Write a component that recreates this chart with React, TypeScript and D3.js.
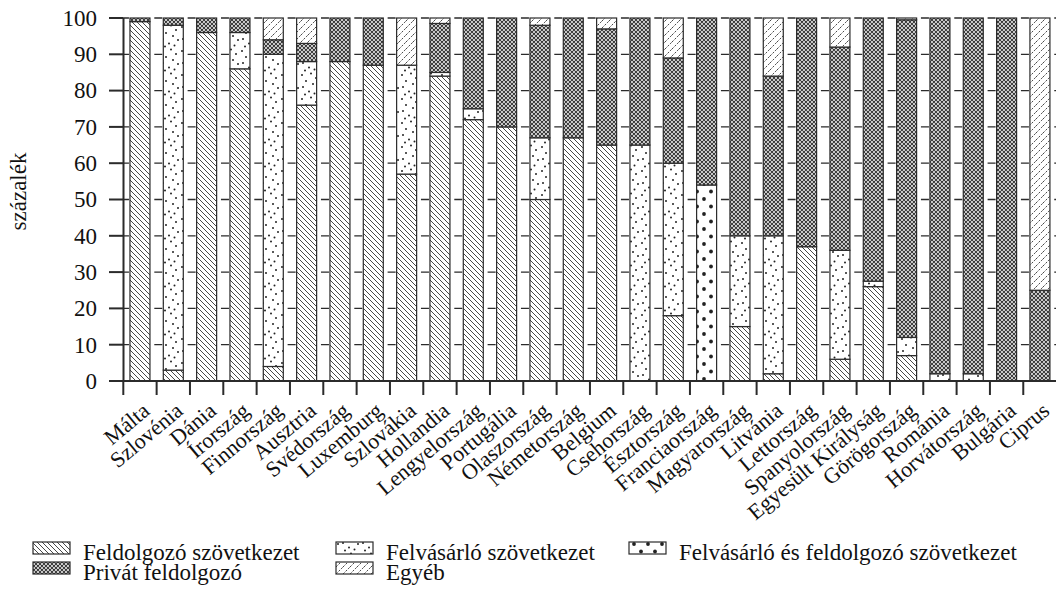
import React from "react";
import * as d3 from "d3";

const countries = ["Málta","Szlovénia","Dánia","Írország","Finnország","Ausztria","Svédország","Luxemburg","Szlovákia","Hollandia","Lengyelország","Portugália","Olaszország","Németország","Belgium","Csehország","Észtország","Franciaország","Magyarország","Litvánia","Lettország","Spanyolország","Egyesült Királyság","Görögország","Románia","Horvátország","Bulgária","Ciprus"];

const feldolgozo = [99,3,96,86,4,76,88,87,57,84,72,70,50,67,65,0,18,0,15,2,37,6,26,7,0,0,0,0];
const felvasarlo = [0,95,0,10,86,12,0,0,30,1,3,0,17,0,0,65,42,0,25,38,0,30,1.5,5,2,2,0,0];
const felvEsFeld = [0,0,0,0,0,0,0,0,0,0,0,0,0,0,0,0,0,54,0,0,0,0,0,0,0,0,0,0];
const privat = [1,2,4,4,4,5,12,13,0,13.5,25,30,31,33,32,35,29,46,60,44,63,56,72.5,87.5,98,98,100,25];
const egyeb = [0,0,0,0,6,7,0,0,13,1.5,0,0,2,0,3,0,11,0,0,16,0,8,0,0.5,0,0,0,75];

const seriesNames = ["Feldolgozó szövetkezet","Felvásárló szövetkezet","Felvásárló és feldolgozó szövetkezet","Privát feldolgozó","Egyéb"];
const seriesValues = [feldolgozo, felvasarlo, felvEsFeld, privat, egyeb];
const patternIds = ["p-feld","p-felv","p-felvfeld","p-priv","p-egyeb"];
const yTicks = [0,10,20,30,40,50,60,70,80,90,100];

const FONT = "'Liberation Serif','Times New Roman',serif";
const INK = "#2b2b2b";

export default function App() {
  const width = 1056, height = 596;
  const x = d3.scaleBand<string>().domain(countries).range([123.3, 1056.6]).paddingInner(0.4).paddingOuter(0.2);
  const y = d3.scaleLinear().domain([0, 100]).range([381, 18]);
  const step = x.step();
  const bw = x.bandwidth();

  const stacked = countries.map((c, i) => {
    let acc = 0;
    return seriesValues.map((vals, s) => {
      const y0 = acc;
      acc += vals[i];
      return { s, y0, y1: acc, v: vals[i] };
    }).filter(d => d.v > 0);
  });

  const dashLen = 8;
  const firstDashStart = (x(countries[0]) as number) + bw + (step - bw - dashLen) - 1;
  const dashOffset = -(firstDashStart - x.range()[0]);

  const sparseDots = [[2,3],[11,1.5],[16,6],[6,9],[13,12],[3,15],[18,16],[9,19.5],[14.5,21.5],[5,22.5]];

  const legendItems = [
    { s: 0, x: 33, y: 542 },
    { s: 1, x: 336, y: 542 },
    { s: 2, x: 629, y: 542 },
    { s: 3, x: 33, y: 562 },
    { s: 4, x: 336, y: 562 },
  ];

  return (
    <svg width={width} height={height} style={{ position: "absolute", left: 0, top: 0, background: "#fff" }} fontFamily={FONT}>
      <defs>
        <pattern id="p-feld" patternUnits="userSpaceOnUse" width={5} height={5}>
          <rect width={5} height={5} fill="#fff" />
          <path d="M0,0 L5,5 M-1,4 L1,6 M4,-1 L6,1" stroke="#333" strokeWidth={0.9} />
        </pattern>
        <pattern id="p-felv" patternUnits="userSpaceOnUse" width={20} height={24}>
          <rect width={20} height={24} fill="#fff" />
          {sparseDots.map((p, k) => <circle key={k} cx={p[0]} cy={p[1]} r={1} fill="#222" />)}
        </pattern>
        <pattern id="p-felvfeld" patternUnits="userSpaceOnUse" width={14} height={15}>
          <rect width={14} height={15} fill="#fff" />
          <circle cx={4} cy={4} r={1.9} fill="#222" />
          <circle cx={11} cy={11.5} r={1.9} fill="#222" />
        </pattern>
        <pattern id="p-priv" patternUnits="userSpaceOnUse" width={4} height={4}>
          <rect width={4} height={4} fill="#fff" />
          <path d="M0,0 L4,4 M0,4 L4,0 M-1,1 L1,-1 M3,5 L5,3 M-1,3 L1,5 M3,-1 L5,1" stroke="#333" strokeWidth={1.05} />
        </pattern>
        <pattern id="p-egyeb" patternUnits="userSpaceOnUse" width={7} height={7}>
          <rect width={7} height={7} fill="#fff" />
          <path d="M0,7 L7,0" stroke="#333" strokeWidth={0.9} strokeDasharray="2.2 1.4" />
          <path d="M-1,1 L1,-1 M6,8 L8,6" stroke="#333" strokeWidth={0.9} />
        </pattern>
      </defs>

      {yTicks.filter(t => t > 0).map(t => (
        <line key={t} x1={x.range()[0]} x2={x.range()[1]} y1={y(t)} y2={y(t)} stroke={INK} strokeWidth={1.3}
          strokeDasharray={`${dashLen} ${step - dashLen}`} strokeDashoffset={dashOffset} />
      ))}

      {countries.map((c, i) => (
        <g key={c}>
          {stacked[i].map(d => (
            <rect key={d.s} x={x(c)} y={y(d.y1)} width={bw} height={y(d.y0) - y(d.y1)}
              fill={`url(#${patternIds[d.s]})`} stroke={INK} strokeWidth={1.2} />
          ))}
        </g>
      ))}

      <line x1={123.5} x2={123.5} y1={y(100)} y2={y(0)} stroke={INK} strokeWidth={2} />
      {yTicks.map(t => (
        <g key={t}>
          <line x1={109} x2={123.5} y1={y(t)} y2={y(t)} stroke={INK} strokeWidth={2} />
          <text x={97} y={y(t)} dy="0.34em" textAnchor="end" fontSize={23} fill="#111">{t}</text>
        </g>
      ))}
      <text transform={`translate(26,${(y(0) + y(100)) / 2 - 8}) rotate(-90)`} textAnchor="middle" fontSize={23} fill="#111">százalék</text>

      <line x1={x.range()[0]} x2={x.range()[1]} y1={y(0)} y2={y(0)} stroke={INK} strokeWidth={2} />
      {countries.map(c => (
        <line key={c} x1={(x(c) as number) - step * 0.2} x2={(x(c) as number) - step * 0.2} y1={y(0)} y2={y(0) + 14} stroke={INK} strokeWidth={2} />
      ))}
      {countries.map(c => (
        <text key={c} transform={`translate(${(x(c) as number) + bw / 2 + 11},${y(0) + 32}) rotate(-40)`}
          textAnchor="end" fontSize={22} fill="#111">{c}</text>
      ))}

      {legendItems.map(it => (
        <g key={it.s}>
          <rect x={it.x} y={it.y} width={37} height={12} fill={`url(#${patternIds[it.s]})`} stroke={INK} strokeWidth={1.2} />
          <text x={it.x + 50} y={it.y + 18} fontSize={23} fill="#111">{seriesNames[it.s]}</text>
        </g>
      ))}
    </svg>
  );
}
